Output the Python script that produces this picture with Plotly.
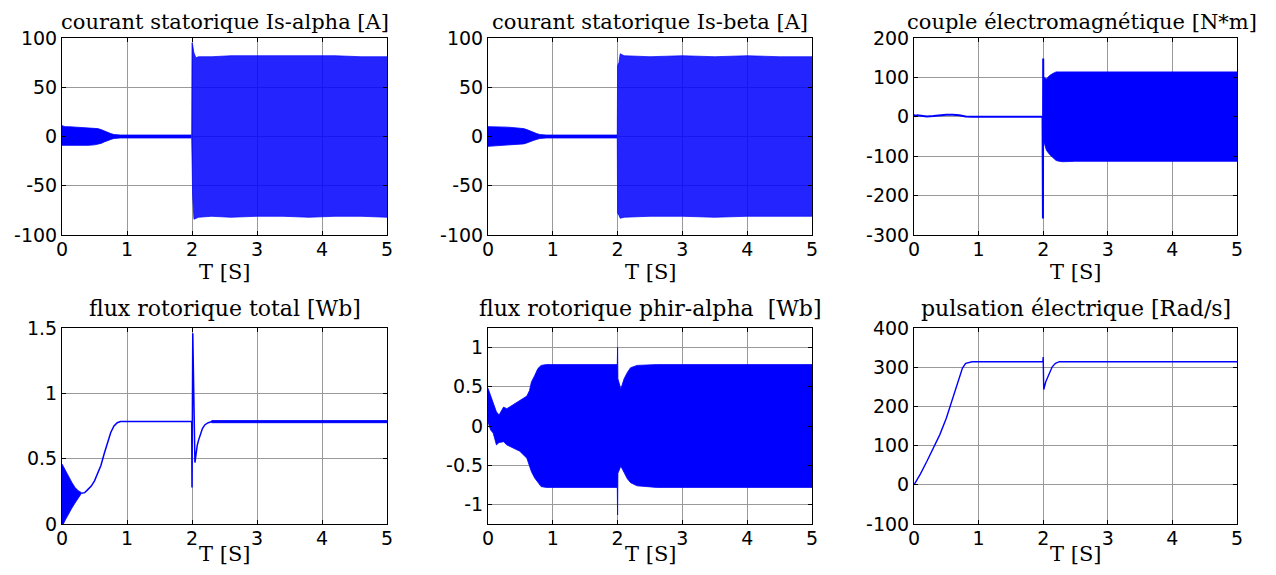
import plotly.graph_objects as go

# ---------------- data ----------------
# 1) courant statorique Is-alpha  (envelope of the dense oscillation)
IA_T  = [0, 0.05, 0.1, 0.2, 0.3, 0.4, 0.5, 0.55, 0.6, 0.65, 0.7, 0.75, 0.8, 0.9, 1.5, 1.995]
IA_UP = [11, 10, 10, 9.5, 9.5, 9, 8.5, 8, 7, 5.5, 4, 3, 2, 1.5, 1.5, 1.5]
IA_LO = [-9, -9, -9.5, -9, -9, -9, -8.5, -8, -7, -5.5, -4, -3, -2, -1.5, -1.5, -1.5]
IA_T2  = [1.995, 2.0, 2.01, 2.03, 2.06, 2.1, 2.3, 2.6, 3.0, 3.4, 3.8, 4.2, 4.6, 5.0]
IA_UP2 = [1.5, 95, 93, 85, 80, 81, 81, 82, 82, 82, 82, 82, 81, 81]
IA_LO2 = [-1.5, -21, -60, -84, -83, -82, -81, -82, -81, -81, -82, -81, -81, -82]

# 2) courant statorique Is-beta
IB_T  = [0, 0.1, 0.2, 0.3, 0.4, 0.5, 0.55, 0.6, 0.65, 0.7, 0.75, 0.8, 0.9, 1.5, 1.995]
IB_UP = [10, 10, 9.5, 9.5, 9, 8.5, 8, 7, 5.5, 4, 3, 2, 1.5, 1.5, 1.5]
IB_LO = [-10, -9.5, -9, -9, -8.5, -8, -7.5, -6.5, -5, -4, -3, -2, -1.5, -1.5, -1.5]
IB_T2  = [1.995, 2.0, 2.02, 2.04, 2.1, 2.5, 3.0, 3.5, 4.0, 4.5, 5.0]
IB_UP2 = [1.5, 72, 75, 84, 82, 81, 82, 81, 82, 81, 81]
IB_LO2 = [-1.5, -78, -80, -83, -82, -81, -81, -82, -81, -81, -81]

# 3) couple electromagnetique
TE_T  = [0, 0.02, 0.05, 0.1, 0.15, 0.2, 0.3, 0.4, 0.5, 0.6, 0.7, 0.8, 0.9, 1.5, 1.99, 1.996, 2.0, 2.004]
TE_V  = [5, 2, 4, 3, 2, 1, 2, 4, 5, 5, 4, 1, 0, 0, 0, -258, 148, 0]
TE_BT = [2.004, 2.02, 2.05, 2.1, 2.15, 2.2, 2.25, 2.3, 2.5, 3.0, 3.5, 4.0, 4.5, 5.0]
TE_UP = [100, 100, 96, 105, 110, 114, 114, 114, 114, 113, 114, 114, 114, 114]
TE_LO = [-60, -68, -85, -96, -104, -111, -113, -114, -113, -113, -113, -114, -113, -113]

# 4) flux rotorique total
FT_BT = [0, 0.02, 0.05, 0.1, 0.15, 0.2, 0.25, 0.3]
FT_UP = [0.46, 0.44, 0.41, 0.37, 0.32, 0.28, 0.255, 0.24]
FT_LO = [0.0, 0.0, 0.03, 0.08, 0.12, 0.16, 0.2, 0.235]
FT_T  = [0.3, 0.35, 0.4, 0.45, 0.5, 0.55, 0.6, 0.65, 0.7, 0.75, 0.8, 0.85, 0.9, 1.0, 1.5, 1.995,
         2.0, 2.012, 2.045, 2.06, 2.08, 2.1, 2.13, 2.16, 2.2, 2.25, 2.3, 3.0, 4.0, 5.0]
FT_V  = [0.235, 0.24, 0.265, 0.29, 0.33, 0.385, 0.45, 0.54, 0.62, 0.70, 0.75, 0.775, 0.785, 0.785, 0.785, 0.785,
         0.28, 1.46, 0.47, 0.55, 0.6, 0.64, 0.69, 0.73, 0.76, 0.775, 0.783, 0.783, 0.783, 0.783]
FT_RT = [2.3, 5.0]
FT_RU = [0.792, 0.792]
FT_RL = [0.775, 0.775]

# 5) flux rotorique phir-alpha (envelope)
PA_T  = [0, 0.04, 0.08, 0.13, 0.17, 0.24, 0.29, 0.39, 0.49, 0.6, 0.64, 0.67, 0.72, 0.77, 0.82, 0.9,
         1.2, 1.5, 1.8, 1.995, 2.0, 2.005, 2.05, 2.1, 2.15, 2.2, 2.3, 2.6, 3.0, 3.5, 4.0, 4.5, 5.0]
PA_UP = [0.48, 0.38, 0.28, 0.18, 0.14, 0.24, 0.22, 0.27, 0.32, 0.38, 0.45, 0.56, 0.64, 0.73, 0.77, 0.78,
         0.78, 0.78, 0.78, 0.78, 1.0, 0.6, 0.47, 0.6, 0.68, 0.74, 0.77, 0.78, 0.78, 0.78, 0.78, 0.78, 0.78]
PA_LO = [0.05, -0.05, -0.09, -0.24, -0.21, -0.2, -0.24, -0.28, -0.32, -0.41, -0.5, -0.58, -0.66, -0.72, -0.77, -0.78,
         -0.78, -0.78, -0.78, -0.78, -1.13, -0.6, -0.51, -0.6, -0.67, -0.72, -0.76, -0.78, -0.78, -0.78, -0.78, -0.78, -0.78]

# 6) pulsation electrique
W_T = [0, 0.1, 0.2, 0.3, 0.4, 0.5, 0.6, 0.7, 0.75, 0.8, 0.85, 0.9, 1.0, 1.995,
       2.0, 2.008, 2.04, 2.09, 2.14, 2.19, 2.25, 3.0, 5.0]
W_V = [0, 28, 60, 92, 128, 170, 222, 275, 298, 310, 313, 314, 314, 314,
       326, 243, 263, 284, 301, 310, 314, 314, 314]

TITLES = ["courant statorique Is-alpha [A]", "courant statorique Is-beta [A]",
          "couple électromagnétique [N*m]", "flux rotorique total [Wb]",
          "flux rotorique phir-alpha  [Wb]", "pulsation électrique [Rad/s]"]
X_LABEL = "T [S]"
X_TICKS = [0, 1, 2, 3, 4, 5]
Y_TICKS = [[-100, -50, 0, 50, 100], [-100, -50, 0, 50, 100], [-300, -200, -100, 0, 100, 200],
           [0, 0.5, 1, 1.5], [-1, -0.5, 0, 0.5, 1], [-100, 0, 100, 200, 300, 400]]
Y_RANGES = [[-100, 100], [-100, 100], [-300, 200], [0, 1.5], [-1.245, 1.245], [-100, 400]]

# ---------------- figure ----------------
W, H = 1276, 575
OFF = 8  # page body margin of the browser
BLUE = "rgb(0,0,255)"
STRIPE = "rgba(0,0,255,0.86)"


def px_x(a, b):
    return [(a - OFF) / W, (b - OFF) / W]


def px_y(top, bottom):
    return [1 - (bottom - OFF) / H, 1 - (top - OFF) / H]


X_DOM = [px_x(62, 387), px_x(488, 812), px_x(914, 1237)]
Y_DOM = [px_y(38, 235), px_y(328, 524)]
TITLE_SIZE = [21, 21, 21, 22, 22, 22]
TITLE_DX = [0, 0, 6, 0, 0, 0]

fig = go.Figure()


def ax(i):
    return ("x" if i == 0 else f"x{i+1}"), ("y" if i == 0 else f"y{i+1}")


def band(i, t, up, lo, width=0.8, color=BLUE):
    xa, ya = ax(i)
    fig.add_trace(go.Scatter(x=t, y=up, mode="lines", line=dict(color=color, width=width),
                             xaxis=xa, yaxis=ya, showlegend=False, hoverinfo="skip"))
    fig.add_trace(go.Scatter(x=t, y=lo, mode="lines", line=dict(color=color, width=width),
                             fill="tonexty", fillcolor=color,
                             xaxis=xa, yaxis=ya, showlegend=False, hoverinfo="skip"))


def line(i, t, v, width=1.2):
    xa, ya = ax(i)
    fig.add_trace(go.Scatter(x=t, y=v, mode="lines", line=dict(color=BLUE, width=width),
                             xaxis=xa, yaxis=ya, showlegend=False))


def lab(v):
    return f"{v:g}"  # plain hyphen-minus as in the reference


band(0, IA_T, IA_UP, IA_LO)
band(0, IA_T2, IA_UP2, IA_LO2, color=STRIPE)
band(1, IB_T, IB_UP, IB_LO)
band(1, IB_T2, IB_UP2, IB_LO2, color=STRIPE)
line(2, TE_T, TE_V, 2)
band(2, TE_BT, TE_UP, TE_LO)
band(3, FT_BT, FT_UP, FT_LO)
line(3, FT_T, FT_V, 1.5)
band(3, FT_RT, FT_RU, FT_RL)
band(4, PA_T, PA_UP, PA_LO)
line(5, W_T, W_V, 1.4)

tick_font = dict(family="DejaVu Sans", size=19, color="black")
common = dict(showline=True, linecolor="black", linewidth=1, mirror="allticks",
              ticks="inside", ticklen=4, tickcolor="black", tickwidth=1,
              showgrid=True, gridcolor="#9a9a9a", gridwidth=1, zeroline=False,
              tickfont=tick_font, automargin=False)

layout = dict(template="none", width=W, height=H, autosize=False,
              margin=dict(l=0, r=0, t=0, b=0, pad=0, autoexpand=False),
              paper_bgcolor="white", plot_bgcolor="white", showlegend=False)
annotations = []
for i in range(6):
    r, c = divmod(i, 3)
    xn = "xaxis" if i == 0 else f"xaxis{i+1}"
    yn = "yaxis" if i == 0 else f"yaxis{i+1}"
    xa, ya = ax(i)
    layout[xn] = dict(domain=X_DOM[c], range=[0, 5], tickvals=X_TICKS,
                      ticktext=[lab(v) for v in X_TICKS], anchor=ya,
                      ticklabelstandoff=-3, **common)
    layout[yn] = dict(domain=Y_DOM[r], range=Y_RANGES[i], tickvals=Y_TICKS[i],
                      ticktext=[lab(v) for v in Y_TICKS[i]], anchor=xa, **common)
    cx = (X_DOM[c][0] + X_DOM[c][1]) / 2
    ty = 1 - ((22 if r == 0 else 308) - OFF) / H
    ly = 1 - ((272 if r == 0 else 554) - OFF) / H
    annotations.append(dict(text=TITLES[i], x=cx + TITLE_DX[i] / W, y=ty, xref="paper", yref="paper",
                            xanchor="center", yanchor="middle", showarrow=False,
                            font=dict(family="DejaVu Serif", size=TITLE_SIZE[i], color="black")))
    annotations.append(dict(text=X_LABEL, x=cx, y=ly, xref="paper", yref="paper",
                            xanchor="center", yanchor="middle", showarrow=False,
                            font=dict(family="DejaVu Serif", size=21, color="black")))
layout["annotations"] = annotations
fig.update_layout(**layout)

fig.write_html("out.html")
